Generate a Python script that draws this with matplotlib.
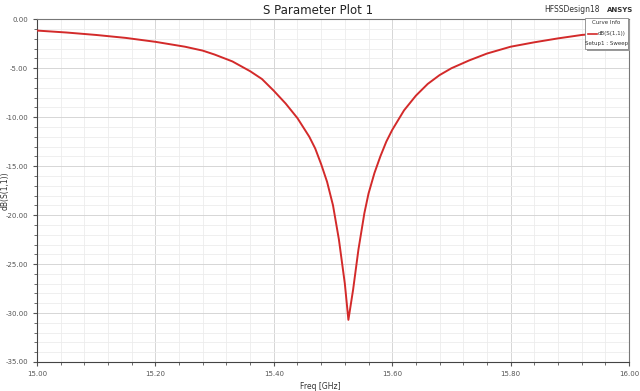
import numpy as np
import matplotlib.pyplot as plt
from matplotlib.ticker import MultipleLocator, FormatStrFormatter
from matplotlib.patches import Rectangle
from matplotlib.lines import Line2D

# S11 sweep
freq = [15.00, 15.05, 15.10, 15.15, 15.20, 15.25, 15.28, 15.30, 15.33, 15.36,
        15.38, 15.40, 15.42, 15.44, 15.46, 15.47, 15.48, 15.49, 15.50, 15.51,
        15.52, 15.526, 15.534, 15.543, 15.553, 15.56, 15.57, 15.58, 15.59, 15.60,
        15.62, 15.64, 15.66, 15.68, 15.70, 15.73, 15.76, 15.80, 15.84, 15.88,
        15.92, 15.96, 16.00]
s11 = [-1.15, -1.35, -1.6, -1.9, -2.3, -2.8, -3.2, -3.6, -4.3, -5.3,
       -6.1, -7.3, -8.6, -10.1, -12.0, -13.2, -14.8, -16.6, -19.0, -22.5,
       -27.0, -30.7, -27.6, -23.5, -19.8, -17.8, -15.7, -14.0, -12.5, -11.3,
       -9.3, -7.8, -6.6, -5.7, -5.0, -4.2, -3.5, -2.8, -2.35, -1.95,
       -1.6, -1.4, -1.2]

red = '#d32a2a'
fig = plt.figure(figsize=(6.4, 3.91), dpi=100)
ax = fig.add_axes([37/640, 1-362/391, (629-37)/640, (362-19.3)/391])

ax.plot(freq, s11, color=red, lw=1.4, zorder=3)

ax.set_xlim(15.0, 16.0)
ax.set_ylim(-35, 0)
ax.xaxis.set_major_locator(MultipleLocator(0.2))
ax.xaxis.set_minor_locator(MultipleLocator(0.04))
ax.yaxis.set_major_locator(MultipleLocator(5))
ax.yaxis.set_minor_locator(MultipleLocator(1))
ax.xaxis.set_major_formatter(FormatStrFormatter('%.2f'))
ax.yaxis.set_major_formatter(FormatStrFormatter('%.2f'))
ax.grid(which='major', color='#d6d6d6', lw=0.7)
ax.grid(which='minor', color='#ececec', lw=0.6)
ax.set_axisbelow(True)
ax.tick_params(which='both', labelsize=5, colors='#555555', direction='out')
ax.tick_params(which='major', length=3)
ax.tick_params(which='minor', length=2)
for s in ax.spines.values():
    s.set_color('#777777')
    s.set_linewidth(0.8)
ax.spines['left'].set_color('#444444')
ax.spines['bottom'].set_color('#444444')

ax.set_xlabel('Freq [GHz]', fontsize=5.5, color='#333333')
ax.set_ylabel('dB(S(1,1))', fontsize=5.5, color='#333333')
ax.xaxis.set_label_coords(0.478, -0.058)
ax.yaxis.set_label_coords(-0.047, 0.5)

fig.text(318/640, 1-10/391, 'S Parameter Plot 1', ha='center', va='center',
         fontsize=8.5, color='#222222')
fig.text(572/640, 1-10/391, 'HFSSDesign18', ha='center', va='center',
         fontsize=5.5, color='#333333')
fig.text(620/640, 1-10/391, 'ANSYS', ha='center', va='center',
         fontsize=5, fontweight='bold', color='#333333')

# legend box ("Curve Info")
x0, y0, w, h = 585/640, 1-49/391, 43/640, 31/391
fig.patches.append(Rectangle((x0+2/640, y0-2/391), w, h, transform=fig.transFigure,
                             facecolor='#9a9a9a', edgecolor='none', zorder=5))
fig.patches.append(Rectangle((x0, y0), w, h, transform=fig.transFigure,
                             facecolor='white', edgecolor='#888888', lw=0.6, zorder=6))
fig.text(x0+w/2, 1-23/391, 'Curve Info', ha='center', va='center', fontsize=4, color='#333333', zorder=7)
fig.lines.append(Line2D([588/640, 597/640], [1-34/391, 1-34/391], transform=fig.transFigure,
                        color=red, lw=1.2, zorder=7))
fig.text(626/640, 1-34/391, 'dB(S(1,1))', ha='right', va='center', fontsize=4, color='#333333', zorder=7)
fig.text(x0+w/2, 1-43/391, 'Setup1 : Sweep', ha='center', va='center', fontsize=4, color='#333333', zorder=7)

fig.savefig('out.png', dpi=100)
